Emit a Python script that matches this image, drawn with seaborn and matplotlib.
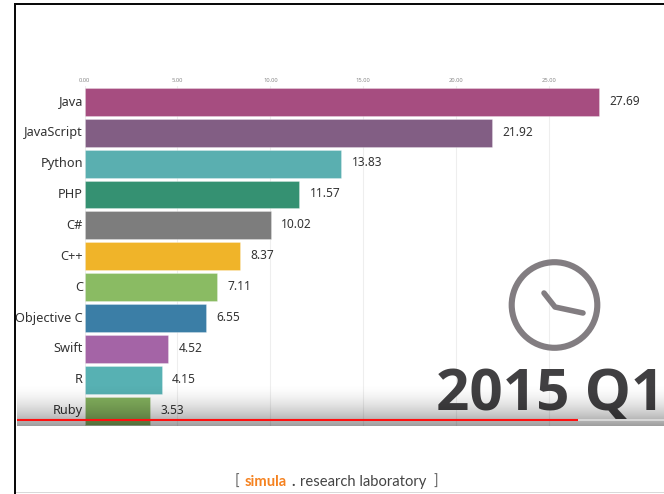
import numpy as np
import pandas as pd
import matplotlib
matplotlib.use("Agg")
import matplotlib.pyplot as plt
from matplotlib.patches import Circle, Rectangle
from matplotlib.transforms import ScaledTranslation
import seaborn as sns

languages = ["Java", "JavaScript", "Python", "PHP", "C#", "C++", "C",
             "Objective C", "Swift", "R", "Ruby"]
shares = [27.69, 21.92, 13.83, 11.57, 10.02, 8.37, 7.11, 6.55, 4.52, 4.15, 3.53]
bar_colors = ["#A64D80", "#825E84", "#5AAFB0", "#359172", "#7D7D7D", "#F0B429",
              "#8ABB63", "#3B7EA6", "#A464A6", "#57B1B3", "#84B25E"]
tick_values = [0, 5, 10, 15, 20, 25]
period = "2015 Q1"

W, H = 664, 494
sns.set_theme(style="white")
plt.rcParams["font.family"] = ["Noto Sans", "DejaVu Sans"]

fig = plt.figure(figsize=(W / 100, H / 100), dpi=100, facecolor="white")

# plot area: left 84.5 px, right edge of figure, top 86 px, bottom 426 px
ax = fig.add_axes([84.5 / W, 1 - 426 / H, (W - 84.5) / W, (426 - 86) / H])
df = pd.DataFrame({"language": languages, "share": shares})
sns.barplot(data=df, x="share", y="language", hue="language", order=languages,
            hue_order=languages, palette=bar_colors, saturation=1, dodge=False,
            legend=False, width=0.9, linewidth=0.7, edgecolor="#ffffff44", ax=ax, zorder=2)
ax.set_xlim(0, (W - 84.5) / 18.58)
ax.set_ylim((426 - 101.8) / 30.9, (86 - 101.8) / 30.9)
ax.set_xlabel("")
ax.set_ylabel("")
for s in ax.spines.values():
    s.set_visible(False)
ax.set_xticks(tick_values)
ax.set_xticklabels([f"{v:.2f}" for v in tick_values], fontsize=4.2, color="#8a8a8a")
ax.xaxis.tick_top()
ax.tick_params(axis="x", length=0, pad=2.5)
ax.tick_params(axis="y", length=0, pad=1.0, labelsize=9.2, labelcolor="#333333")
ax.grid(axis="x", color="#eeeeee", linewidth=0.8, zorder=0)
ax.set_axisbelow(True)
lift = ScaledTranslation(0, 1.5 / 100, fig.dpi_scale_trans)
for lab in ax.get_yticklabels():
    lab.set_transform(lab.get_transform() + lift)
for i, v in enumerate(shares):
    ax.text(v + 0.57, i - 0.02, f"{v:.2f}", va="center", ha="left", fontsize=8.6,
            color="#333333", zorder=3)

# pixel-space overlay for the decorations
ov = fig.add_axes([0, 0, 1, 1], facecolor="none")
ov.set_xlim(0, W)
ov.set_ylim(H, 0)
ov.axis("off")

# clock
ov.add_patch(Circle((554.5, 305), 42.8, fill=False, ec="#827d81", lw=4.4, zorder=2))
ov.plot([544, 555, 583], [293, 307, 313], color="#827d81", lw=4, zorder=2,
        solid_capstyle="round", solid_joinstyle="round")
ov.text(436, 410, period, fontsize=42, fontweight="bold", color="#414042",
        family=["Open Sans", "DejaVu Sans"], ha="left", va="baseline", zorder=3)

# video-player shade at the bottom of the frame
alpha = np.linspace(0, 1, 64).reshape(-1, 1) ** 1.8 * 0.38
rgba = np.zeros((64, 1, 4))
rgba[..., 3] = alpha[:, :]
ov.imshow(rgba, extent=(17, W, 426, 383), aspect="auto", zorder=5,
          interpolation="bilinear")
ov.set_xlim(0, W)
ov.set_ylim(H, 0)
ov.plot([578, W], [420.3, 420.3], color="#d8d8d8", lw=1.4, zorder=6,
        solid_capstyle="butt")
ov.plot([17, 578], [420.3, 420.3], color="#ff0f0f", lw=1.5, zorder=7,
        solid_capstyle="butt")

# outer frame
ov.add_patch(Rectangle((14, 3), 2.4, H, color="#0a0a0a", lw=0, zorder=8))
ov.add_patch(Rectangle((14, 3), W, 2.2, color="#0a0a0a", lw=0, zorder=8))
ov.add_patch(Rectangle((16, 492), W, 1.2, color="#d9d9d9", lw=0, zorder=8))

# footer
fk = dict(y=486, fontsize=10.6, va="baseline", ha="left", family=["Lato", "DejaVu Sans"], zorder=8)
ov.text(235, s="[", color="#666666", **fk)
ov.text(245, s="simula", color="#F58220", fontweight="bold", **fk)
ov.text(291, s=".", color="#444444", fontweight="bold", **fk)
ov.text(300, s="research laboratory", color="#444444", **fk)
ov.text(433, s="]", color="#666666", **fk)

fig.savefig("out.png", dpi=100, facecolor="white")
